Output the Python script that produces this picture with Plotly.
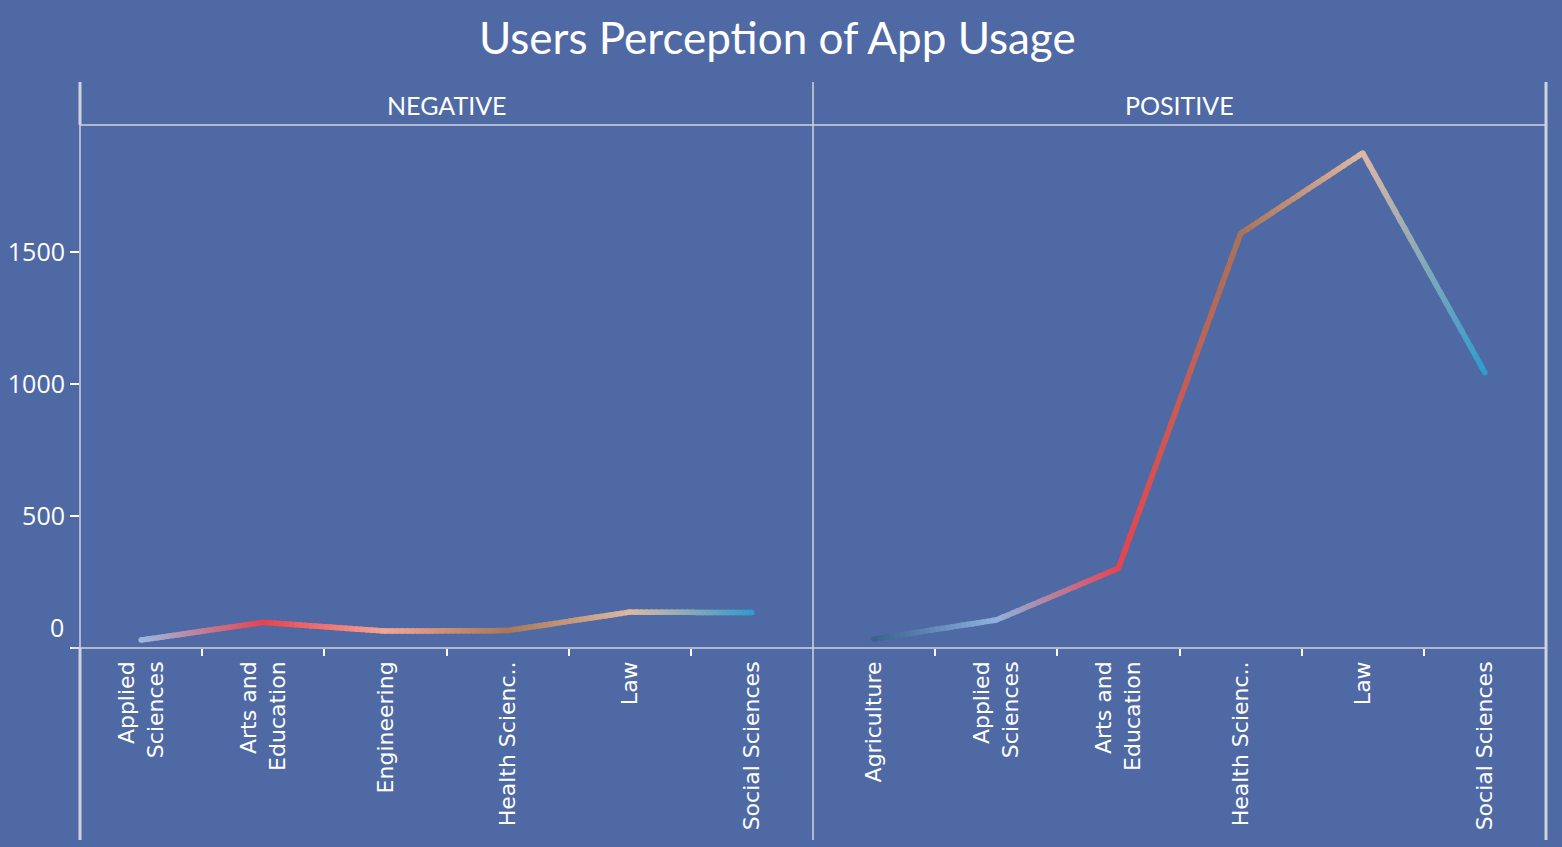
import plotly.graph_objects as go

# ---------------- data ----------------
neg_categories = ["Applied<br>Sciences", "Arts and<br>Education", "Engineering",
                  "Health Scienc..", "Law", "Social Sciences"]
neg_values = [30, 97, 64, 66, 136, 134]
neg_colors = ["#9ab8e0", "#e8434f", "#f2a595", "#a87858", "#dcb8a2", "#2f9ccc"]

pos_categories = ["Agriculture", "Applied<br>Sciences", "Arts and<br>Education",
                  "Health Scienc..", "Law", "Social Sciences"]
pos_values = [34, 106, 302, 1570, 1875, 1043]
pos_colors = ["#3a638e", "#8fb2de", "#e8434f", "#a8735a", "#deb8a4", "#2f9ccc"]

y_ticks = [0, 500, 1000, 1500]
y_tick_labels = ["0", "500", "1000", "1500"]
panel_titles = ["NEGATIVE", "POSITIVE"]
title_text = "Users Perception of App Usage"

# ---------------- style ----------------
BG = "#4f69a5"
LINE = "#cfd3dc"
W, H = 1562, 847
STEPS = 24


def hex_rgb(h):
    h = h.lstrip("#")
    return tuple(int(h[i:i + 2], 16) for i in (0, 2, 4))


def blend(c1, c2, t):
    a, b = hex_rgb(c1), hex_rgb(c2)
    return "rgb(%d,%d,%d)" % tuple(round(a[k] + (b[k] - a[k]) * t) for k in range(3))


fig = go.Figure()


def add_gradient_line(values, colors, xref, yref):
    # draw the straight line between consecutive data points with a colour gradient
    for i in range(len(values) - 1):
        x0, x1 = i, i + 1
        y0, y1 = values[i], values[i + 1]
        for s in range(STEPS):
            t0, t1 = s / STEPS, min(1.0, (s + 1.6) / STEPS)
            fig.add_trace(go.Scatter(
                x=[x0 + (x1 - x0) * t0, x0 + (x1 - x0) * t1],
                y=[y0 + (y1 - y0) * t0, y0 + (y1 - y0) * t1],
                mode="lines",
                line=dict(color=blend(colors[i], colors[i + 1], (s + 0.5) / STEPS), width=5.5),
                xaxis=xref, yaxis=yref, hoverinfo="skip", showlegend=False))
    fig.add_trace(go.Scatter(
        x=list(range(len(values))), y=values, mode="markers",
        marker=dict(color=colors, size=5.5, line=dict(width=0)),
        xaxis=xref, yaxis=yref, showlegend=False, hoverinfo="y"))


add_gradient_line(neg_values, neg_colors, "x", "y")
add_gradient_line(pos_values, pos_colors, "x2", "y2")

xL, xM, xR = 80 / W, 813 / W, 1546 / W
yB, yT = 1 - 648 / H, 1 - 125 / H
y_top = 1981

tickfont = dict(family="DejaVu Sans", size=22, color="white")

common_x = dict(range=[-0.5, 5.5], tickvals=list(range(6)), tickangle=-90,
                showgrid=False, zeroline=False, showline=False, automargin=False,
                ticks="", tickfont=tickfont, ticklabelstandoff=8,
                minor=dict(tickvals=[0.5, 1.5, 2.5, 3.5, 4.5], ticks="outside",
                           ticklen=7, tickwidth=2, tickcolor="white"),
                fixedrange=True)

# the bottom label ("0") is drawn raised above the axis line, as in the original
ytext = [""] + y_tick_labels[1:]

fig.update_layout(
    template="none",
    width=W, height=H,
    paper_bgcolor=BG, plot_bgcolor=BG,
    margin=dict(l=0, r=0, t=0, b=0, pad=0, autoexpand=False),
    showlegend=False,
    xaxis=dict(domain=[xL, xM], ticktext=neg_categories, anchor="y", **common_x),
    xaxis2=dict(domain=[xM, xR], ticktext=pos_categories, anchor="y2", **common_x),
    yaxis=dict(domain=[yB, yT], range=[0, y_top], tickvals=y_ticks, ticktext=ytext,
               ticks="outside", ticklen=9, tickwidth=2, tickcolor="white",
               tickfont=dict(family="Open Sans", size=25, color="white"),
               showgrid=False, zeroline=False, showline=False, anchor="x",
               automargin=False),
    yaxis2=dict(domain=[yB, yT], range=[0, y_top], matches="y",
                showticklabels=False, ticks="", showgrid=False,
                zeroline=False, showline=False, anchor="x2", automargin=False),
)

# frame lines
shapes = []
def pline(x0, y0, x1, y1, w=1.5, c=LINE):
    shapes.append(dict(type="line", xref="paper", yref="paper",
                       x0=x0, y0=y0, x1=x1, y1=y1, line=dict(color=c, width=w)))

top_frame = 1 - 82 / H
bot_frame = 1 - 840 / H
pline(xL, top_frame, xL, yT, 3)
pline(xL, yT, xL, yB, 1.5)
pline(xL, yB, xL, bot_frame, 3)
pline(xM, top_frame, xM, bot_frame, 1.5)
pline(xR, top_frame, xR, bot_frame, 3)
pline(xL, yT, xR, yT, 1.5)
pline(72 / W, yB, xR, yB, 1.5)
fig.update_layout(shapes=shapes)

annotations = [
    dict(text=title_text, x=777 / W, y=1 - 37 / H, xref="paper", yref="paper",
         showarrow=False, xanchor="center", yanchor="middle",
         font=dict(family="Lato", size=44, color="white")),
    dict(text=y_tick_labels[0], x=66 / W, y=y_ticks[0], xref="paper", yref="y",
         showarrow=False, xanchor="right", yanchor="bottom", yshift=2,
         font=dict(family="Open Sans", size=25, color="white")),
]
for t, (a, b) in zip(panel_titles, [(xL, xM), (xM, xR)]):
    annotations.append(dict(text=t, x=(a + b) / 2, y=1 - 105 / H, xref="paper", yref="paper",
                            showarrow=False, xanchor="center", yanchor="middle",
                            font=dict(family="Lato", size=25, color="white")))
fig.update_layout(annotations=annotations)

fig.write_html("out.html")
